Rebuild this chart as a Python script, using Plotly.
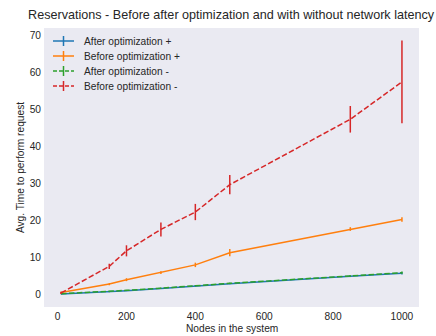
import plotly.graph_objects as go

nodes = [10, 150, 200, 300, 400, 500, 850, 1000]

after_plus = [0.1, 0.7, 1.0, 1.6, 2.3, 2.9, 4.9, 5.7]
after_plus_err = [0.05, 0.1, 0.1, 0.1, 0.15, 0.15, 0.2, 0.3]

before_plus = [0.5, 2.8, 4.0, 5.9, 8.0, 11.3, 17.7, 20.3]
before_plus_err = [0.2, 0.3, 0.4, 0.4, 0.6, 1.0, 0.5, 0.6]

after_minus = [0.2, 0.8, 1.1, 1.7, 2.4, 3.0, 5.0, 5.9]
after_minus_err = [0.05, 0.1, 0.1, 0.1, 0.15, 0.15, 0.2, 0.3]

before_minus = [0.4, 7.6, 11.8, 17.6, 22.3, 29.7, 47.4, 57.5]
before_minus_err = [0.3, 0.7, 1.5, 1.9, 2.2, 2.6, 3.6, 11.2]

names = ["After optimization +", "Before optimization +",
         "After optimization -", "Before optimization -"]
colors = ["#1f77b4", "#ff7f0e", "#2ca02c", "#d62728"]
dashes = ["solid", "solid", "5.5px,2.4px", "5.5px,2.4px"]
ys = [after_plus, before_plus, after_minus, before_minus]
errs = [after_plus_err, before_plus_err, after_minus_err, before_minus_err]

W, H = 436, 336
L, R, T, B = 44, 17, 28, 29
pw, ph = W - L - R, H - T - B

fig = go.Figure()
for n, c, d, y, e in zip(names, colors, dashes, ys, errs):
    fig.add_trace(go.Scatter(
        x=nodes, y=y, name=n, mode="lines", showlegend=False,
        line=dict(color=c, width=1.5, dash=d),
        error_y=dict(type="data", array=e, visible=True, color=c,
                     thickness=1.5, width=0),
    ))

# custom legend (matplotlib-like compact spacing), in paper coordinates
def px2paper_x(px):
    return (px - L) / pw

def px2paper_y(py):
    return 1 - (py - T) / ph

shapes = []
annotations = []
leg_dash = ["solid", "solid", "4px,2px", "4px,2px"]
for i, (n, c, d) in enumerate(zip(names, colors, leg_dash)):
    yc = 41 + 15 * i
    shapes.append(dict(type="line", xref="paper", yref="paper",
                       x0=px2paper_x(53), x1=px2paper_x(74),
                       y0=px2paper_y(yc), y1=px2paper_y(yc),
                       line=dict(color=c, width=1.5, dash=d)))
    shapes.append(dict(type="line", xref="paper", yref="paper",
                       x0=px2paper_x(63.5), x1=px2paper_x(63.5),
                       y0=px2paper_y(yc - 5), y1=px2paper_y(yc + 5),
                       line=dict(color=c, width=1.5)))
    annotations.append(dict(text=n, xref="paper", yref="paper",
                            x=px2paper_x(82), y=px2paper_y(yc),
                            xanchor="left", yanchor="middle", showarrow=False,
                            font=dict(size=10.2, color="#262626")))

# x-axis title placed as annotation to match matplotlib spacing
annotations.append(dict(text="Nodes in the system", xref="paper", yref="paper",
                        x=0.5, y=px2paper_y(328), xanchor="center", yanchor="middle",
                        showarrow=False, font=dict(size=10.2, color="#262626")))

font = "Liberation Sans, Arial, sans-serif"
fig.update_layout(
    width=W, height=H,
    margin=dict(l=L, r=R, t=T, b=B, autoexpand=False),
    paper_bgcolor="white", plot_bgcolor="#EAEAF2",
    font=dict(family=font, size=10.2, color="#262626"),
    title=dict(text="Reservations - Before after optimization and with without network latency",
               x=0.53, xanchor="center", y=1 - 14.5 / H, yanchor="middle",
               xref="container", yref="container",
               font=dict(size=12.6, color="#262626")),
    showlegend=False,
    shapes=shapes, annotations=annotations,
    xaxis=dict(range=[-39.5, 1049.5], tickvals=[0, 200, 400, 600, 800, 1000],
               showgrid=False, zeroline=False, showline=False, ticks="",
               automargin=False, ticklabelstandoff=2),
    yaxis=dict(range=[-3.4, 72.1], tickvals=[0, 10, 20, 30, 40, 50, 60, 70],
               showgrid=False, zeroline=False, showline=False, ticks="",
               automargin=False, ticklabelstandoff=2,
               title=dict(text="Avg. Time to perform request", standoff=3, font=dict(size=10.2))),
)

fig.write_html("out.html", config={"displayModeBar": False},
               post_script="document.body.style.margin='0px';")
